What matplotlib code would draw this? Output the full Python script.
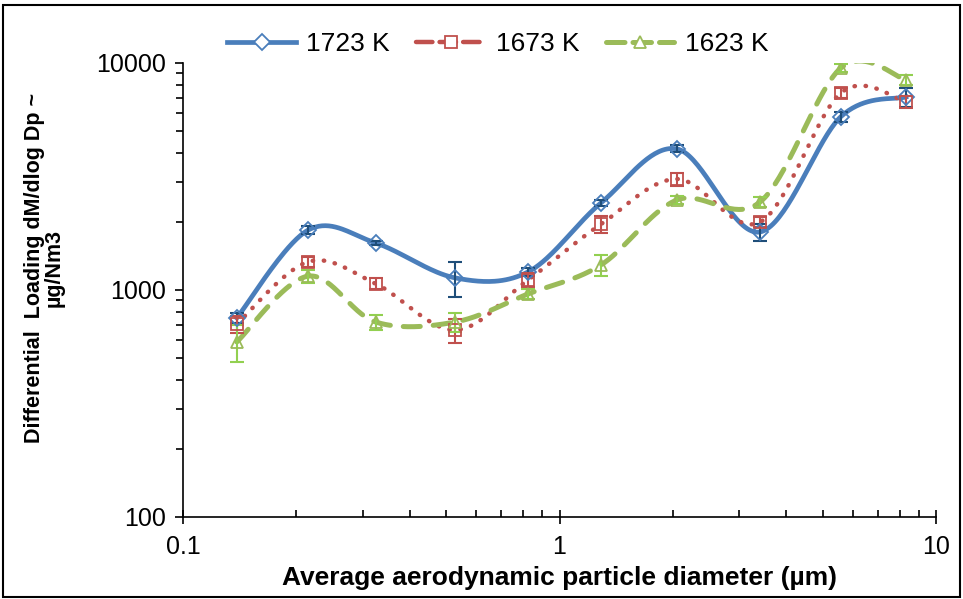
import numpy as np
import matplotlib.pyplot as plt
from matplotlib.patches import Rectangle
from matplotlib.ticker import FixedLocator, LogLocator, NullFormatter, FuncFormatter

plt.rcParams['font.family'] = ['Liberation Sans', 'DejaVu Sans']

diam = [0.139, 0.215, 0.325, 0.528, 0.825, 1.29, 2.05, 3.41, 5.59, 8.32]

load_1723 = [753, 1835, 1610, 1130, 1200, 2420, 4180, 1800, 5800, 7080]
err_1723 = [40, 70, 40, 200, 50, 70, 150, 160, 300, 700]

load_1673 = [708, 1330, 1065, 666, 1107, 1950, 3080, 1990, 7380, 6730]
err_1673 = [60, 70, 60, 80, 80, 170, 200, 100, 350, 400]

load_1623 = [590, 1150, 722, 722, 960, 1290, 2490, 2440, 9500, 8420]
err_1623 = [110, 80, 55, 70, 50, 140, 90, 130, 400, 450]

labels = ['1723 K', '1673 K', '1623 K']


def smooth(x, y, n=40):
    # excel-style smoothed line: catmull-rom through the points in log space
    px = np.log10(x)
    py = np.log10(y)
    pts = np.column_stack([px, py])
    pts = np.vstack([pts[0], pts, pts[-1]])
    out = []
    t = np.linspace(0, 1, n)[:, None]
    for i in range(1, len(pts) - 2):
        p0, p1, p2, p3 = pts[i - 1], pts[i], pts[i + 1], pts[i + 2]
        c1 = p1 + (p2 - p0) / 6
        c2 = p2 - (p3 - p1) / 6
        seg = ((1 - t) ** 3) * p1 + 3 * ((1 - t) ** 2) * t * c1 + 3 * (1 - t) * t ** 2 * c2 + t ** 3 * p2
        out.append(seg)
    out = np.vstack(out)
    return 10 ** out[:, 0], 10 ** out[:, 1]


fig = plt.figure(figsize=(9.63, 5.99), dpi=100)
ax = fig.add_axes([0.190, 0.137, 0.782, 0.758])

series = [
    (load_1723, err_1723, '#4A7EBB', '#1F4E79', 'D', '-'),
    (load_1673, err_1673, '#C0504D', '#C0504D', 's', ':'),
    (load_1623, err_1623, '#9BBB59', '#92D050', '^', '--'),
]

handles = []
for (vals, errs, col, ecol, mk, ls), lab in zip(series, labels):
    sx, sy = smooth(diam, vals)
    if ls == ':':
        line, = ax.plot(sx, sy, color=col, lw=3.2, linestyle=(0, (0.1, 2.4)),
                        dash_capstyle='round')
    elif ls == '--':
        line, = ax.plot(sx, sy, color=col, lw=3.6, linestyle=(0, (3.4, 2.6)),
                        dash_capstyle='round')
    else:
        line, = ax.plot(sx, sy, color=col, lw=3.4)
    ax.errorbar(diam, vals, yerr=errs, fmt='none', ecolor=ecol, elinewidth=1.5,
                capsize=5, capthick=1.5, zorder=3)
    ax.plot(diam, vals, linestyle='none', marker=mk, markersize=8, mfc='none',
            mec=col, mew=1.3, zorder=4)
    h, = ax.plot([], [], color=col, lw=line.get_linewidth(), linestyle=line.get_linestyle(),
                 dash_capstyle='round', marker=mk, markersize=8, mfc='white', mec=col, mew=1.3)
    handles.append(h)

ax.set_xscale('log')
ax.set_yscale('log')
ax.set_xlim(0.1, 10)
ax.set_ylim(100, 10000)

ax.xaxis.set_major_locator(FixedLocator([0.1, 1, 10]))
ax.xaxis.set_major_formatter(FuncFormatter(lambda v, p: '%g' % v))
ax.xaxis.set_minor_locator(LogLocator(base=10, subs=np.arange(2, 10)))
ax.xaxis.set_minor_formatter(NullFormatter())
ax.yaxis.set_major_locator(FixedLocator([100, 1000, 10000]))
ax.yaxis.set_major_formatter(FuncFormatter(lambda v, p: '%d' % v))
ax.yaxis.set_minor_locator(LogLocator(base=10, subs=np.arange(2, 10)))
ax.yaxis.set_minor_formatter(NullFormatter())

ax.tick_params(axis='x', which='major', direction='inout', length=10, width=1.2,
               labelsize=18, pad=8)
ax.tick_params(axis='x', which='minor', direction='in', length=5, width=1.2)
ax.tick_params(axis='y', which='major', direction='out', length=6, width=1.2,
               labelsize=18, pad=6)
ax.tick_params(axis='y', which='minor', direction='out', length=5, width=1.2)

for s in ['top', 'right']:
    ax.spines[s].set_visible(False)
for s in ['left', 'bottom']:
    ax.spines[s].set_linewidth(1.2)

ax.set_xlabel('Average aerodynamic particle diameter (µm)', fontsize=19,
              fontweight='bold')
ax.xaxis.set_label_coords(0.5, -0.108)
ax.set_ylabel('Differential  Loading dM/dlog Dp ~\nµg/Nm3', fontsize=15.5,
              fontweight='bold', linespacing=0.9)
ax.yaxis.set_label_coords(-0.157, 0.548)

ax.legend(handles, labels, loc='center', bbox_to_anchor=(0.418, 1.042), ncol=3,
          frameon=False, fontsize=19, handlelength=2.6, columnspacing=1.0,
          handletextpad=0.4)

fig.patches.append(Rectangle((0.003, 0.004), 0.994, 0.988, transform=fig.transFigure,
                             fill=False, edgecolor='black', lw=1.5))

fig.savefig('out.png', dpi=100)
